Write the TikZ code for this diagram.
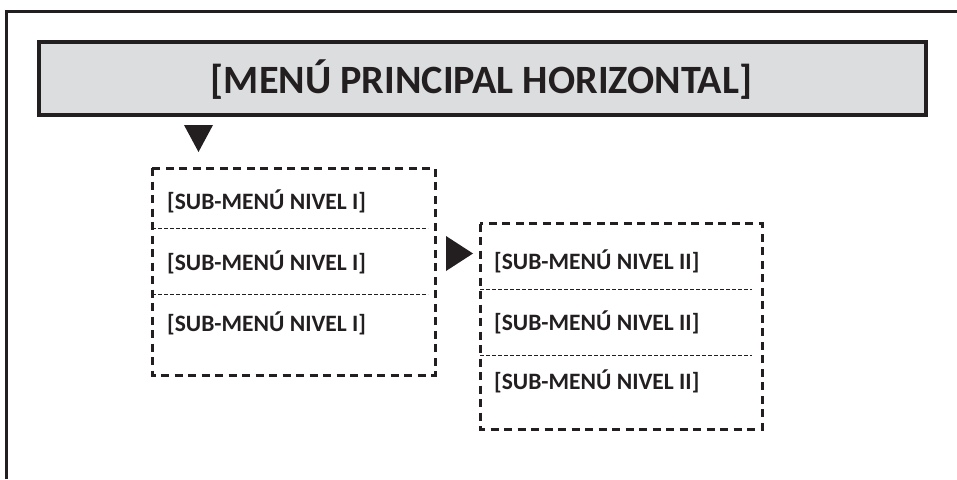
\documentclass[tikz,border=0pt]{standalone}
\usepackage{fontspec}
\setmainfont{Carlito}
\definecolor{ink}{HTML}{231F20}
\definecolor{headfill}{HTML}{DCDDDF}
\begin{document}
\begin{tikzpicture}[x=1pt,y=-1pt,
  frameline/.style={draw=ink,line width=3pt},
  headbox/.style={draw=ink,fill=headfill,line width=4pt},
  dashbox/.style={draw=ink,line width=3pt,dash pattern=on 8pt off 5.5pt},
  divline/.style={draw=ink,line width=0.9pt,dash pattern=on 3.5pt off 2.5pt},
  itemtext/.style={anchor=west,inner sep=0pt,text=ink,font=\bfseries\fontsize{23.5}{25}\selectfont},
  headtext/.style={inner sep=0pt,text=ink,font=\bfseries\fontsize{40.2}{44}\selectfont},
  tri/.style={fill=ink}]
\useasboundingbox (0,0) rectangle (957,479);
% outer frame
\coordinate (fa) at (6.5,479);
\coordinate (fb) at (6.5,11);
\coordinate (fc) at (957,11);
\draw[frameline] (fa) -- (fb) -- (fc);
% header
\draw[headbox] (39,42) rectangle (926,115);
\node[headtext] (head) at (481.5,80) {[MENÚ PRINCIPAL HORIZONTAL]};
% down triangle
\fill[tri] (184,125) -- (213,125) -- (198.5,152) -- cycle;
% submenu level I
\draw[dashbox] (152,168) rectangle (435,375);
\draw[divline] (152,228.5) -- (428,228.5);
\draw[divline] (152,294.5) -- (428,294.5);
\node[itemtext] (a1) at (167,201) {[SUB-MENÚ NIVEL I]};
\node[itemtext] (a2) at (167,262) {[SUB-MENÚ NIVEL I]};
\node[itemtext] (a3) at (167,323) {[SUB-MENÚ NIVEL I]};
% right triangle
\fill[tri] (446,236) -- (446,271) -- (473,253.5) -- cycle;
% submenu level II
\draw[dashbox] (480,223.5) rectangle (762,429);
\draw[divline] (480,289.5) -- (752,289.5);
\draw[divline] (480,355) -- (752,355);
\node[itemtext] (b1) at (494,261) {[SUB-MENÚ NIVEL II]};
\node[itemtext] (b2) at (494,322) {[SUB-MENÚ NIVEL II]};
\node[itemtext] (b3) at (494,381) {[SUB-MENÚ NIVEL II]};
\end{tikzpicture}
\end{document}
